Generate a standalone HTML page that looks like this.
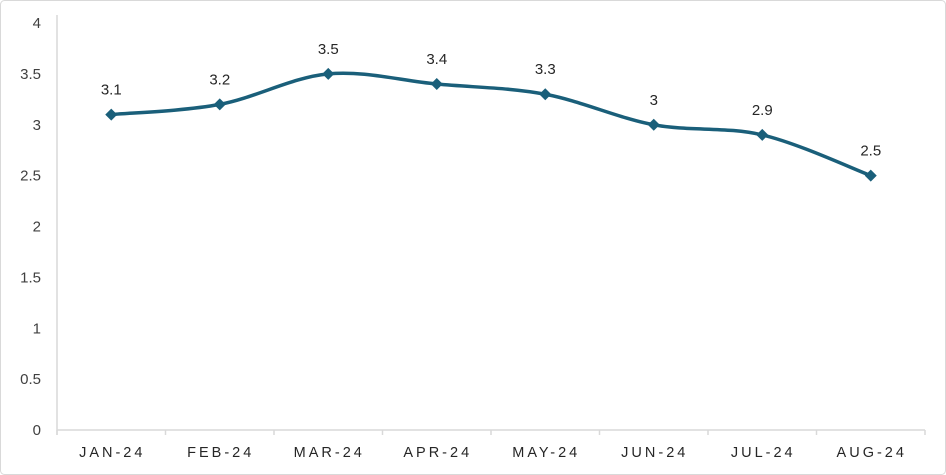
<!DOCTYPE html>
<html><head><meta charset="utf-8"><style>
body{margin:0;background:#fff;}
svg{display:block;font-family:"Liberation Sans",sans-serif;}
</style></head><body>
<svg id="chart" width="946" height="475">
<rect x="0.5" y="0.5" width="945" height="474" rx="4" fill="#fff" stroke="#d9d9d9"/>
</svg>
<script>
const categories=["JAN-24","FEB-24","MAR-24","APR-24","MAY-24","JUN-24","JUL-24","AUG-24"];
const values=[3.1,3.2,3.5,3.4,3.3,3,2.9,2.5];
const yTicks=[0,0.5,1,1.5,2,2.5,3,3.5,4];
const svg=document.getElementById('chart');
const NS='http://www.w3.org/2000/svg';
const x0=57,x1=925,y0=430,y1=23,ymax=4;
const band=(x1-x0)/categories.length;
const X=i=>x0+band*(i+0.5);
const Y=v=>y0-(v/ymax)*(y0-y1);
function mk(t,a){const e=document.createElementNS(NS,t);for(const k in a)e.setAttribute(k,a[k]);svg.appendChild(e);return e;}
yTicks.forEach(t=>{
const e=mk('text',{x:41,y:Y(t)+5,'text-anchor':'end','font-size':15,fill:'#404040'});


e.textContent=t;});
const ax=mk('line',{x1:x0,y1:y0,x2:x1,y2:y0,stroke:'#d9d9d9','stroke-width':1.5});


const ay=mk('line',{x1:x0,y1:y1-8,x2:x0,y2:y0+5,stroke:'#d9d9d9','stroke-width':1.5});


for(let i=0;i<=categories.length;i++){
const tk=mk('line',{x1:x0+band*i,y1:y0,x2:x0+band*i,y2:y0+5,stroke:'#d9d9d9','stroke-width':1.5});

}
categories.forEach((c,i)=>{
const e=mk('text',{x:X(i)+1,y:457,'text-anchor':'middle','font-size':14.5,fill:'#262626','letter-spacing':'3'});


e.textContent=c;});
const pts=values.map((v,i)=>[X(i),Y(v)]);
let d=`M${pts[0][0]},${pts[0][1]}`;
for(let i=0;i<pts.length-1;i++){
const p0=pts[Math.max(i-1,0)],p1=pts[i],p2=pts[i+1],p3=pts[Math.min(i+2,pts.length-1)];
const t=6;
d+=` C${p1[0]+(p2[0]-p0[0])/t},${p1[1]+(p2[1]-p0[1])/t} ${p2[0]-(p3[0]-p1[0])/t},${p2[1]-(p3[1]-p1[1])/t} ${p2[0]},${p2[1]}`;}
const ln=mk('path',{d:d,fill:'none',stroke:'#1a5f7a','stroke-width':3.5,'stroke-linecap':'round'});


pts.forEach((p,i)=>{
const m=mk('polygon',{points:`${p[0]},${p[1]-6} ${p[0]+6},${p[1]} ${p[0]},${p[1]+6} ${p[0]-6},${p[1]}`,fill:'#1a5f7a'});


const l=mk('text',{x:p[0],y:p[1]-20,'text-anchor':'middle','font-size':15,fill:'#262626'});


l.textContent=values[i];});
</script>
</body></html>
